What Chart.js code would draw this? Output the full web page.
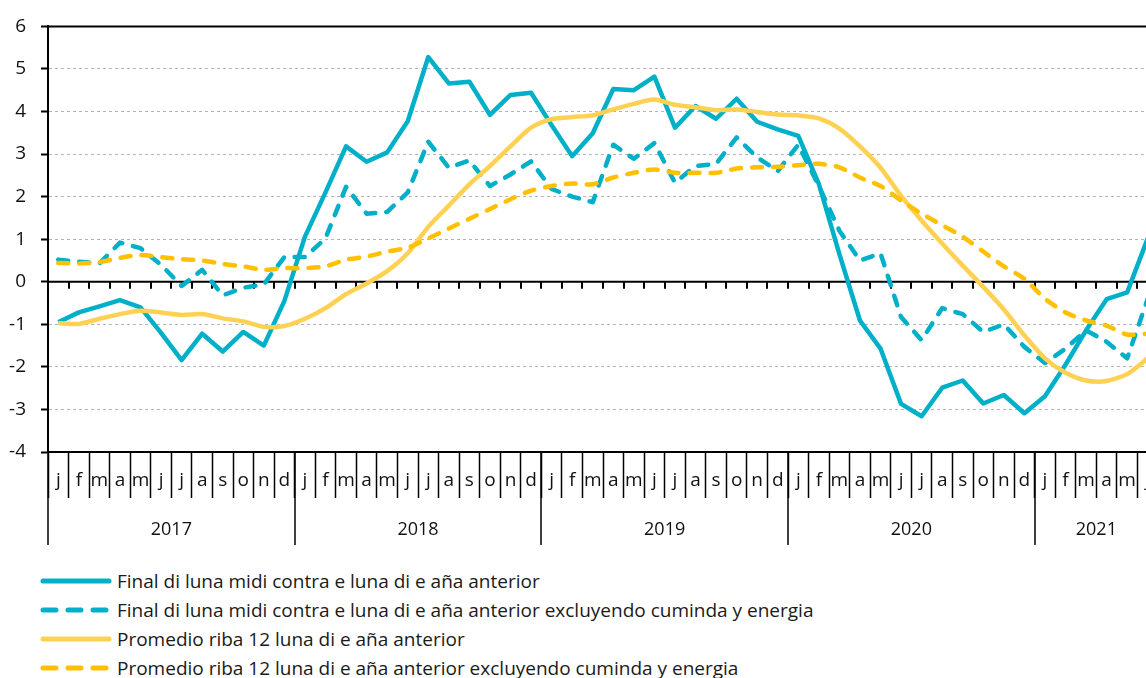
<!DOCTYPE html>
<html>
<head>
<meta charset="utf-8">
<script src="https://cdn.jsdelivr.net/npm/chart.js@4"></script>
<style>
  html, body { margin: 0; padding: 0; background: #fff; overflow: hidden; }
  #wrap { position: absolute; left: 0; top: 0; width: 1160px; height: 550px; }
  #legend { position: absolute; left: 40px; top: 566px; font-family: "Open Sans", sans-serif; font-size: 19px; color: #1a1a1a; }
  .row { height: 29px; display: flex; align-items: center; white-space: nowrap; }
  .row svg { width: 72px; height: 10px; margin-right: 5px; flex: none; }
</style>
</head>
<body>
<div id="wrap"><canvas id="cpiChart"></canvas></div>
<div id="legend"></div>
<script>
const monthInitials = ['j', 'f', 'm', 'a', 'm', 'j', 'j', 'a', 's', 'o', 'n', 'd'];
const years = ['2017', '2018', '2019', '2020', '2021'];
const monthsInYear = [12, 12, 12, 12, 6];
const yTicks = [-4, -3, -2, -1, 0, 1, 2, 3, 4, 5, 6];

// Final di luna midi contra e luna di e aña anterior
const finalTotal = [
    -0.95, -0.72, -0.58, -0.43, -0.60, -1.20, -1.84, -1.22, -1.64, -1.18, -1.50, -0.45,
    1.06, 2.10, 3.18, 2.82, 3.04, 3.77, 5.28, 4.66, 4.70, 3.92, 4.39, 4.44,
    3.68, 2.95, 3.49, 4.53, 4.50, 4.82, 3.62, 4.13, 3.83, 4.30, 3.76, 3.58,
    3.43, 2.30, 0.65, -0.91, -1.57, -2.87, -3.16, -2.49, -2.32, -2.86, -2.66, -3.09,
    -2.69, -1.95, -1.14, -0.41, -0.25, 1.02
];
// ... excluyendo cuminda y energia
const finalCore = [
    0.52, 0.47, 0.43, 0.92, 0.79, 0.40, -0.10, 0.28, -0.32, -0.14, -0.06, 0.58,
    0.58, 1.02, 2.23, 1.60, 1.64, 2.10, 3.29, 2.68, 2.85, 2.25, 2.52, 2.83,
    2.18, 2.00, 1.87, 3.22, 2.89, 3.26, 2.33, 2.72, 2.77, 3.39, 2.92, 2.60,
    3.22, 2.25, 1.20, 0.50, 0.67, -0.83, -1.37, -0.62, -0.76, -1.18, -1.00, -1.53,
    -1.91, -1.57, -1.14, -1.41, -1.80, -0.40
];
// Promedio riba 12 luna di e aña anterior
const avgTotal = [
    -0.97, -0.99, -0.87, -0.76, -0.68, -0.72, -0.78, -0.76, -0.86, -0.93, -1.06, -1.04,
    -0.87, -0.62, -0.29, -0.04, 0.25, 0.67, 1.29, 1.79, 2.29, 2.72, 3.18, 3.62,
    3.82, 3.87, 3.91, 4.05, 4.18, 4.28, 4.16, 4.10, 4.03, 4.05, 3.99, 3.93,
    3.91, 3.84, 3.60, 3.18, 2.68, 2.02, 1.44, 0.90, 0.38, -0.12, -0.65, -1.26,
    -1.80, -2.14, -2.32, -2.33, -2.17, -1.80
];
// ... excluyendo cuminda y energia
const avgCore = [
    0.44, 0.43, 0.46, 0.56, 0.63, 0.58, 0.53, 0.50, 0.42, 0.36, 0.28, 0.32,
    0.32, 0.36, 0.52, 0.59, 0.71, 0.80, 1.02, 1.25, 1.48, 1.71, 1.94, 2.14,
    2.25, 2.31, 2.29, 2.45, 2.56, 2.64, 2.56, 2.56, 2.56, 2.66, 2.69, 2.70,
    2.74, 2.77, 2.69, 2.45, 2.25, 1.91, 1.60, 1.33, 1.06, 0.71, 0.36, 0.07,
    -0.40, -0.72, -0.91, -1.03, -1.24, -1.22
];

const seriesNames = [
    'Final di luna midi contra e luna di e aña anterior',
    'Final di luna midi contra e luna di e aña anterior excluyendo cuminda y energia',
    'Promedio riba 12 luna di e aña anterior',
    'Promedio riba 12 luna di e aña anterior excluyendo cuminda y energia'
];

const teal = '#00AFC8';
const yellowLight = '#FFD153';
const yellow = '#FFC000';
const dash = [10, 11];

const labels = [];
monthsInYear.forEach(n => { for (let i = 0; i < n; i++) labels.push(monthInitials[i]); });

const font = "'Open Sans', sans-serif";

// axis frame: top line, zero line with small ticks, year separators and year names
const framePlugin = {
    id: 'frame',
    beforeDatasetsDraw(chart) {
        const {ctx, chartArea: a, scales: {x, y}} = chart;
        const step = x.getPixelForValue(1) - x.getPixelForValue(0);
        ctx.save();
        ctx.strokeStyle = '#000';
        ctx.lineWidth = 2;
        const yTop = y.getPixelForValue(6);
        const y0 = y.getPixelForValue(0);
        ctx.beginPath();
        ctx.moveTo(a.left, yTop); ctx.lineTo(chart.width, yTop);
        ctx.moveTo(a.left, y0); ctx.lineTo(chart.width, y0);
        for (let i = 1; i < labels.length; i++) {
            const px = Math.round(x.getPixelForValue(i) - step / 2);
            ctx.moveTo(px, y0); ctx.lineTo(px, y0 + 7);
        }
        ctx.stroke();

        ctx.lineWidth = 1.5;
        ctx.fillStyle = '#111';
        ctx.font = '18px ' + font;
        ctx.textAlign = 'center';
        ctx.textBaseline = 'middle';
        let start = 0;
        years.forEach((yr, k) => {
            const left = x.getPixelForValue(start) - step / 2;
            const right = x.getPixelForValue(start + monthsInYear[k] - 1) + step / 2;
            ctx.beginPath();
            ctx.moveTo(Math.round(left), a.bottom); ctx.lineTo(Math.round(left), a.bottom + 93);
            ctx.stroke();
            ctx.fillText(yr, (left + right) / 2, a.bottom + 78);
            start += monthsInYear[k];
        });
        ctx.restore();
    }
};

const ctxCpi = document.getElementById('cpiChart').getContext('2d');
const cpiChart = new Chart(ctxCpi, {
    type: 'line',
    data: {
        labels: labels,
        datasets: [{
            label: seriesNames[0],
            data: finalTotal,
            borderColor: teal,
            borderWidth: 4.5,
            order: 4
        }, {
            label: seriesNames[1],
            data: finalCore,
            borderColor: teal,
            borderWidth: 4.5,
            borderDash: dash,
            borderCapStyle: 'round',
            order: 3
        }, {
            label: seriesNames[2],
            data: avgTotal,
            borderColor: yellowLight,
            borderWidth: 4.5,
            tension: 0.25,
            order: 2
        }, {
            label: seriesNames[3],
            data: avgCore,
            borderColor: yellow,
            borderWidth: 4.5,
            borderDash: dash,
            borderCapStyle: 'round',
            tension: 0.25,
            order: 1
        }]
    },
    options: {
        responsive: true,
        maintainAspectRatio: false,
        devicePixelRatio: 1,
        animation: false,
        layout: { padding: { top: 20, right: 2, left: 0, bottom: 0 } },
        elements: {
            point: { radius: 0 },
            line: { tension: 0, borderJoinStyle: 'round', fill: false }
        },
        plugins: {
            legend: { display: false },
            tooltip: { enabled: false }
        },
        scales: {
            x: {
                offset: true,
                grid: {
                    offset: true,
                    drawOnChartArea: false,
                    tickLength: 46,
                    tickColor: '#000',
                    tickWidth: 1.5
                },
                border: { color: '#000', width: 2 },
                ticks: {
                    autoSkip: false,
                    maxRotation: 0,
                    padding: -29,
                    color: '#111',
                    font: { family: font, size: 19 }
                },
                afterFit: s => { s.height = 98; }
            },
            y: {
                min: -4,
                max: 6,
                afterBuildTicks: s => { s.ticks = yTicks.map(v => ({value: v})); },
                grid: {
                    color: c => ([6, 0, -4].includes(c.tick.value) ? 'rgba(0,0,0,0)' : '#b4b4b4'),
                    lineWidth: 1,
                    tickLength: 7,
                    tickColor: '#000',
                    tickWidth: 2,
                    tickBorderDash: []
                },
                border: { color: '#000', width: 2, dash: [3, 3] },
                ticks: {
                    padding: 15,
                    color: '#111',
                    font: { family: font, size: 19 }
                },
                afterFit: s => { s.width = 48; }
            }
        }
    },
    plugins: [framePlugin]
});

// legend below the chart
const legendStyles = [
    {color: teal, dashed: false},
    {color: teal, dashed: true},
    {color: yellowLight, dashed: false},
    {color: yellow, dashed: true}
];
const legendEl = document.getElementById('legend');
seriesNames.forEach((name, i) => {
    const st = legendStyles[i];
    const row = document.createElement('div');
    row.className = 'row';
    row.innerHTML = '<svg viewBox="0 0 72 10"><line x1="3" y1="5" x2="69" y2="5" stroke="' + st.color +
        '" stroke-width="5" stroke-linecap="round"' + (st.dashed ? ' stroke-dasharray="13 12"' : '') +
        '/></svg><span>' + name + '</span>';
    legendEl.appendChild(row);
});
</script>
</body>
</html>
